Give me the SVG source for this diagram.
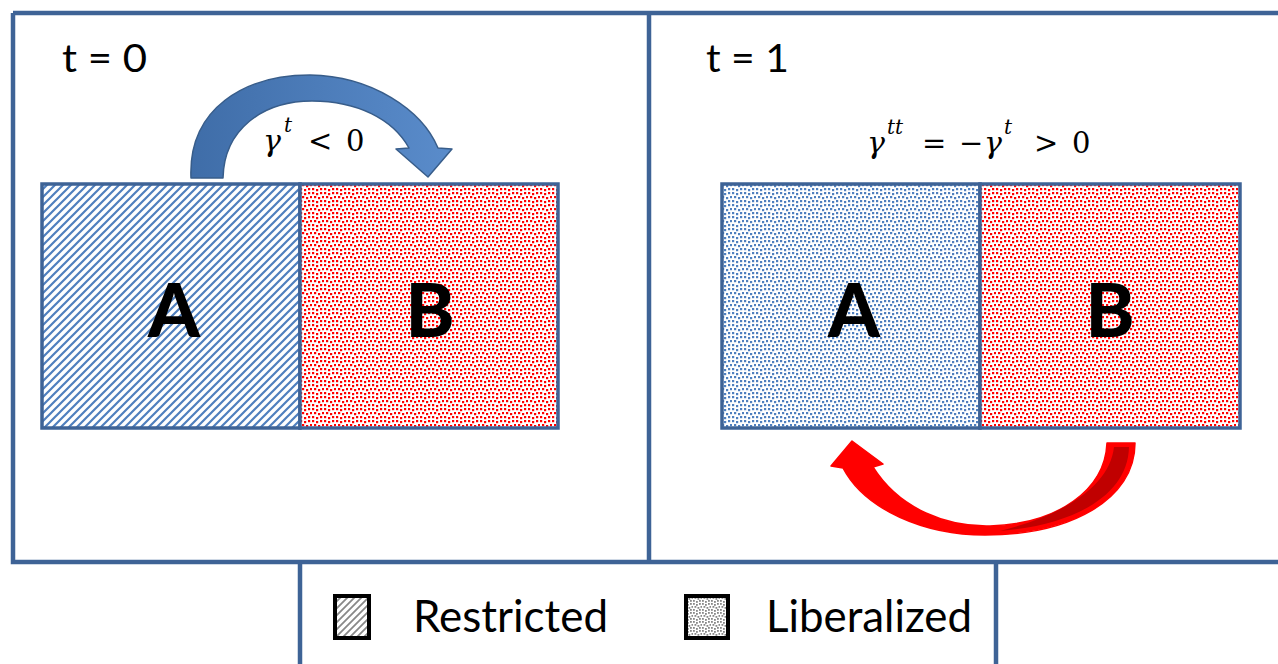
<svg xmlns="http://www.w3.org/2000/svg" width="1278" height="664" viewBox="0 0 1278 664">
<defs>
<style>
.frame{fill:none;stroke:#3E6396;stroke-width:4.5}
.box{stroke:#3E6396;stroke-width:3.5}
.lbl{font-family:Lato,"Open Sans",sans-serif;fill:#000}
.big{font-family:Lato,"Open Sans",sans-serif;font-weight:900;font-size:74px;text-anchor:middle;fill:#000}
.math{font-family:"DejaVu Serif","Liberation Serif",serif;fill:#000}
.g{font-style:italic;font-size:30px}
.sup{font-style:italic;font-size:20px}
.op{font-size:29px}
.num{font-size:29px}
.leg{stroke:#000;stroke-width:4}
</style>
<pattern id="hatchBlue" patternUnits="userSpaceOnUse" width="8" height="8">
<rect width="8" height="8" fill="#fff"/>
<path d="M-2,2 L2,-2 M0,8 L8,0 M6,10 L10,6" stroke="#4F7FBE" stroke-width="2.2"/>
</pattern>
<pattern id="hatchGray" patternUnits="userSpaceOnUse" width="7" height="7">
<rect width="7" height="7" fill="#fff"/>
<path d="M-2,2 L2,-2 M0,7 L7,0 M5,9 L9,5" stroke="#888" stroke-width="1.8"/>
</pattern>
<pattern id="dotRed" patternUnits="userSpaceOnUse" width="12" height="12">
<rect width="12" height="12" fill="#fff"/>
<g fill="#FF0000">
<rect x="0" y="0" width="2.2" height="2.2"/><rect x="4" y="1" width="2.2" height="2.2"/><rect x="8" y="0" width="2.2" height="2.2"/>
<rect x="2" y="4" width="2.2" height="2.2"/><rect x="6" y="5" width="2.2" height="2.2"/><rect x="10" y="4" width="2.2" height="2.2"/>
<rect x="0" y="8" width="2.2" height="2.2"/><rect x="4" y="9" width="2.2" height="2.2"/><rect x="8" y="8" width="2.2" height="2.2"/>
</g>
</pattern>
<pattern id="dotBlue" patternUnits="userSpaceOnUse" width="12" height="12">
<rect width="12" height="12" fill="#fff"/>
<g fill="#4F7FBE">
<rect x="0" y="0" width="2.2" height="2.2"/><rect x="4" y="1" width="2.2" height="2.2"/><rect x="8" y="0" width="2.2" height="2.2"/>
<rect x="2" y="4" width="2.2" height="2.2"/><rect x="6" y="5" width="2.2" height="2.2"/><rect x="10" y="4" width="2.2" height="2.2"/>
<rect x="0" y="8" width="2.2" height="2.2"/><rect x="4" y="9" width="2.2" height="2.2"/><rect x="8" y="8" width="2.2" height="2.2"/>
</g>
</pattern>
<pattern id="dotGray" patternUnits="userSpaceOnUse" width="9" height="9">
<rect width="9" height="9" fill="#fff"/>
<g fill="#888">
<rect x="0" y="0" width="1.8" height="1.8"/><rect x="3" y="1" width="1.8" height="1.8"/><rect x="6" y="0" width="1.8" height="1.8"/>
<rect x="1.5" y="3" width="1.8" height="1.8"/><rect x="4.5" y="4" width="1.8" height="1.8"/><rect x="7.5" y="3" width="1.8" height="1.8"/>
<rect x="0" y="6" width="1.8" height="1.8"/><rect x="3" y="7" width="1.8" height="1.8"/><rect x="6" y="6" width="1.8" height="1.8"/>
</g>
</pattern>
<linearGradient id="blueGrad" x1="0" y1="0" x2="1" y2="0">
<stop offset="0" stop-color="#3F6DA8"/>
<stop offset="1" stop-color="#5A8CCB"/>
</linearGradient>
</defs>

<g id="frames">
<path class="frame" d="M13,13 H1278 M13,13 V562 H1278 M649,13 V562 M300,562 V664 M996,562 V664"/>
</g>

<g id="panel-t0">
<text class="lbl" x="62" y="72" font-size="38" textLength="85" lengthAdjust="spacingAndGlyphs">t = 0</text>
</g>
<g id="panel-t1">
<text class="lbl" x="706" y="72" font-size="38" textLength="83" lengthAdjust="spacingAndGlyphs">t = 1</text>
</g>

<g id="node-A0">
<rect class="box" x="42" y="184" width="258" height="244" fill="url(#hatchBlue)"/>
<text class="big" x="174" y="337">A</text>
</g>
<g id="node-B0">
<rect class="box" x="300" y="184" width="258" height="244" fill="url(#dotRed)"/>
<text class="big" x="430" y="337">B</text>
</g>
<g id="node-A1">
<rect class="box" x="722" y="184" width="258" height="244" fill="url(#dotBlue)"/>
<text class="big" x="854" y="337">A</text>
</g>
<g id="node-B1">
<rect class="box" x="980" y="184" width="260" height="244" fill="url(#dotRed)"/>
<text class="big" x="1110" y="337">B</text>
</g>

<g id="connectors">
<path d="M191,178 C188,108 245,75 310,75 C372,76 422,110 438,148 L452,149 L428,177 L396,149 L409,148 C393,119 357,101 312,101 C262,101 224,130 223,178 Z" fill="url(#blueGrad)" stroke="#385D8A" stroke-width="1.5" stroke-linejoin="round"/>
<path d="M852,441 L883,464 L873,467 C900,510 948,527 990,526 C1058,524 1105,490 1107,443 L1135,443 C1135,500 1070,535 985,535 C925,535 865,510 843,468 L831,466 Z" fill="#FF0000" stroke="#FF0000" stroke-width="1.5" stroke-linejoin="round"/>
<path d="M1114,447 L1129,447 C1128,495 1075,525 1000,531 C1068,514 1110,484 1114,447 Z" fill="#C00000"/>
</g>

<g id="label-gamma0" class="math">
<text class="g" x="263" y="151">γ</text>
<text class="sup" x="284" y="132">t</text>
<text class="op" x="308" y="151">&lt;</text>
<text class="num" x="346" y="151">0</text>
</g>
<g id="label-gamma1" class="math">
<text class="g" x="867" y="153">γ</text>
<text class="sup" x="887" y="134">tt</text>
<text class="op" x="922" y="153">=</text>
<text class="op" x="959" y="153">−</text>
<text class="g" x="984" y="153">γ</text>
<text class="sup" x="1004" y="134">t</text>
<text class="op" x="1034" y="153">&gt;</text>
<text class="num" x="1072" y="153">0</text>
</g>

<g id="legend">
<rect class="leg" x="335" y="596" width="34" height="42" fill="url(#hatchGray)"/>
<text class="lbl" x="413" y="632" font-size="44" textLength="195" lengthAdjust="spacingAndGlyphs">Restricted</text>
<rect class="leg" x="686" y="596" width="42" height="42" fill="url(#dotGray)"/>
<text class="lbl" x="766" y="632" font-size="44" textLength="206" lengthAdjust="spacingAndGlyphs">Liberalized</text>
</g>
</svg>
